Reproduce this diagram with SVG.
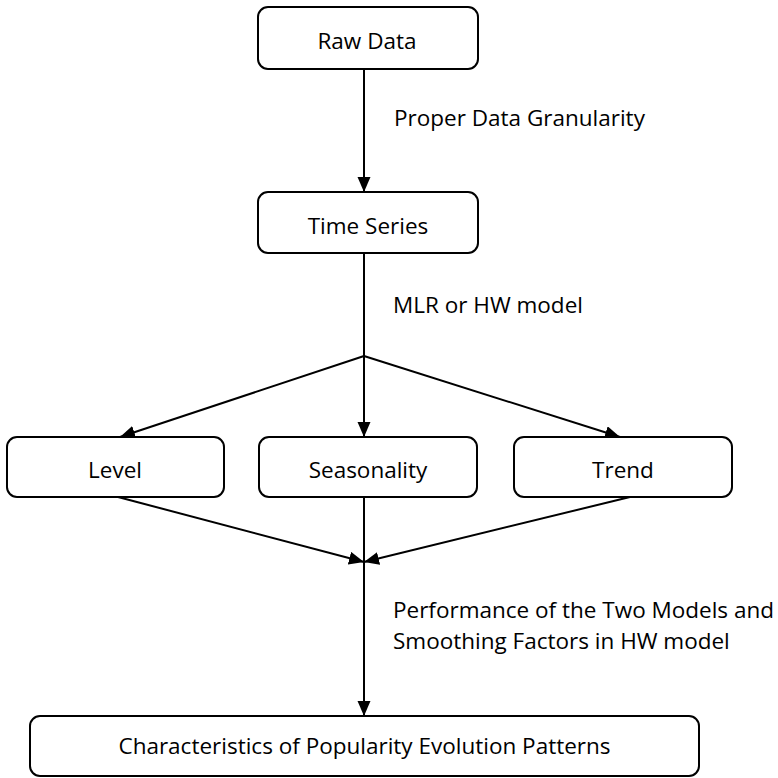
<svg xmlns="http://www.w3.org/2000/svg" width="778" height="778" viewBox="0 0 778 778">
<defs>
<marker id="arr" markerUnits="userSpaceOnUse" markerWidth="16" markerHeight="14" refX="15" refY="6.5" orient="auto">
<path d="M0,0 L15,6.5 L0,13 z" fill="#000"/>
</marker>
<style>
.box{fill:#fff;stroke:#000;stroke-width:2}
.t{font-family:"Open Sans","Liberation Sans",sans-serif;font-size:22.5px;fill:#000}
.c{text-anchor:middle}
.ln{stroke:#000;stroke-width:2;fill:none}
</style>
</defs>
<rect width="778" height="778" fill="#fff"/>
<g id="connectors">
<line class="ln" x1="364" y1="69" x2="364" y2="192" marker-end="url(#arr)"/>
<line class="ln" x1="364" y1="253" x2="364" y2="356"/>
<line class="ln" x1="364" y1="356" x2="120" y2="437" marker-end="url(#arr)"/>
<line class="ln" x1="364" y1="356" x2="364" y2="437" marker-end="url(#arr)"/>
<line class="ln" x1="364" y1="356" x2="620" y2="437" marker-end="url(#arr)"/>
<line class="ln" x1="118" y1="497" x2="364" y2="562" marker-end="url(#arr)"/>
<line class="ln" x1="630" y1="497" x2="364" y2="562" marker-end="url(#arr)"/>
<line class="ln" x1="364" y1="497" x2="364" y2="716" marker-end="url(#arr)"/>
<text class="t" x="394" y="126">Proper Data Granularity</text>
<text class="t" x="393" y="313">MLR or HW model</text>
<text class="t" x="393" y="618">Performance of the Two Models and</text>
<text class="t" x="393" y="649">Smoothing Factors in HW model</text>
</g>
<g id="raw-data">
<rect class="box" x="258" y="7" width="220" height="62" rx="10"/>
<text class="t c" x="367" y="49">Raw Data</text>
</g>
<g id="time-series">
<rect class="box" x="258" y="192" width="220" height="61" rx="10"/>
<text class="t c" x="368" y="234">Time Series</text>
</g>
<g id="level">
<rect class="box" x="7" y="437" width="217" height="60" rx="10"/>
<text class="t c" x="115" y="478">Level</text>
</g>
<g id="seasonality">
<rect class="box" x="259" y="437" width="218" height="60" rx="10"/>
<text class="t c" x="368" y="478">Seasonality</text>
</g>
<g id="trend">
<rect class="box" x="514" y="437" width="218" height="60" rx="10"/>
<text class="t c" x="623" y="478">Trend</text>
</g>
<g id="characteristics">
<rect class="box" x="30" y="716" width="669" height="60" rx="10"/>
<text class="t c" x="364.5" y="754">Characteristics of Popularity Evolution Patterns</text>
</g>
</svg>
